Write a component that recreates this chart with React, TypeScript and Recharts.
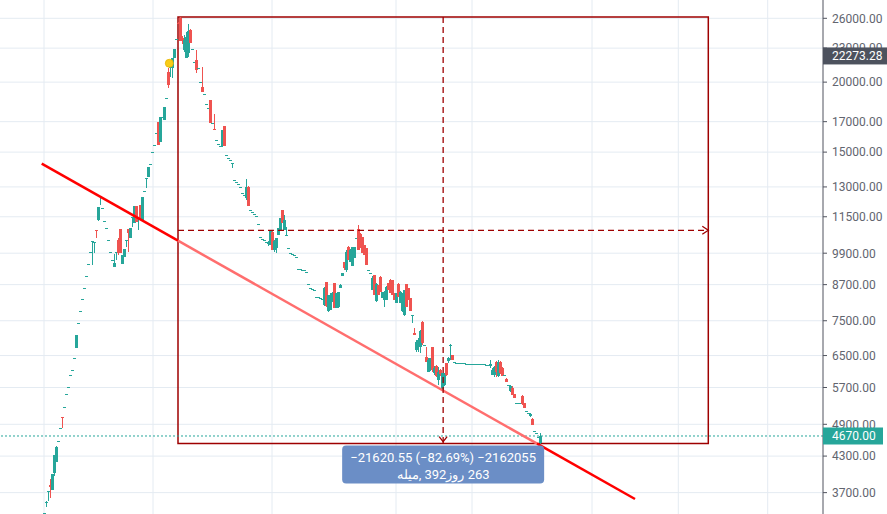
import React from 'react';
import {
  ComposedChart,
  Bar,
  XAxis,
  YAxis,
  CartesianGrid,
  ReferenceLine,
  ReferenceArea,
  ReferenceDot,
} from 'recharts';

type Ohlc = [number, number, number, number]; // open, high, low, close
type BarIn = number | Ohlc; // a single number = flat bar (open = high = low = close)

// ---- price bars (open, high, low, close) ----
const rally: BarIn[] = [
  3404,
  [3555, 3576, 3489, 3565],
  [3720, 3730, 3576, 3728],
  [3819, 3914, 3620, 3788],
  [3741, 3995, 3741, 3995],
  [4012, 4320, 3963, 4320],
  [4197, 4482, 4197, 4464],
  4576,
  4826,
  [5049, 5049, 4826, 5029],
  5263, 5551, 5713, 6001, 6126, 6435,
  [6706, 7074, 6706, 7074],
  7432, 7808, 8203, 8581, 9016, 9472, 9950,
  [10405, 10415, 9433, 10410],
  [10325, 10367, 9909, 10367],
  [10892, 10892, 10539, 10847],
  [11349, 11971, 11302, 11971],
  [12474, 12525, 12070, 12525],
];

const pullback: BarIn[] = [
  11922, 11302, 10982, 10453, 9950, 9628,
  [9356, 9868, 9356, 9511],
  [9945, 9950, 9628, 9950],
  [10453, 10539, 9828, 9909],
  [10937, 10937, 9909, 9909],
  [9472, 9828, 9472, 9828],
  [9747, 10073, 9747, 10073],
  [10450, 10453, 10157, 10453],
  [10937, 10937, 9950, 10758],
  [10539, 10982, 10539, 10982],
  [11485, 11490, 11027, 11490],
  [11210, 12021, 11210, 12021],
  [12021, 12021, 11256, 11256],
  [11396, 11443, 10892, 11443],
  [12070, 12070, 11349, 11349],
  [11349, 12474, 11349, 12474],
];

const surge: BarIn[] = [
  12785,
  [13480, 13487, 12943, 13487],
  [13543, 14111, 13543, 14111],
  14286, 15008, 15446, 16226,
  [16978, 16978, 15446, 15446],
  [15638, 17330, 15638, 17330],
  17330,
  [17118, 18057, 17118, 18057],
  18737,
  [20851, 21196, 19523, 19766],
  [21275, 21369, 20426, 21282],
  [21196, 22085, 20342, 22085],
  [22085, 22918, 22085, 22918],
  23879,
  [25500, 25606, 25397, 25397],
  [26032, 26146, 23684, 23684],
];

const topping: BarIn[] = [
  [23976, 24176, 23392, 23684],
  [22824, 24275, 22637, 23781],
  [22085, 24577, 22085, 24076],
  [22544, 25397, 22174, 24677],
  [24779, 24881, 23488, 23488],
  22918,
  21725,
  [21905, 22824, 20764, 21023],
  21196,
  20011,
  [19604, 21282, 19205, 19205],
  19048, 18281, 17983,
  [18584, 18584, 16908, 16908],
  16908,
  [16496, 17545, 16428, 16428],
  15767, 15510, 15383,
  [15383, 16428, 15320, 16428],
  [16701, 16701, 15383, 15383],
  14824, 14644, 14523,
  [14286, 14345, 14053, 14345],
  13377, 13267, 13158, 12998, 12680, 12577,
  [12423, 13432, 12321, 12998],
  [12998, 13051, 12021, 12021],
];

const slide: BarIn[] = [
  11825, 11728, 11632, 11537, 11164, 10583, 10496, 10453, 10367,
  [10283, 10410, 10199, 10367],
  [10241, 10892, 10241, 10892],
  [10803, 10892, 10032, 10032],
  [10032, 10453, 9950, 10410],
  [10115, 10539, 9909, 10539],
  [10670, 10982, 10670, 10982],
  [10892, 11443, 10892, 11443],
  [11825, 11825, 11210, 11210],
  [10892, 11584, 10892, 11349],
  [10626, 11027, 10626, 10670],
  10115, 9909, 9868, 9828, 9747, 9279, 9279, 9241, 9241, 9165,
  8724, 8581, 8546, 8511, 8270, 8270, 8236, 8203,
];

const chop: BarIn[] = [
  [8003, 8616, 7970, 8581],
  [8797, 8797, 7937, 7970],
  [7808, 8338, 7776, 8338],
  [7840, 8407, 7840, 8338],
  [8169, 8442, 8102, 8407],
  [8760, 8760, 7905, 7905],
  [7905, 8407, 7905, 8407],
  [7937, 8442, 7905, 8442],
  [8581, 8724, 8581, 8688],
  [9016, 9128, 9016, 9128],
  [9550, 9550, 9241, 9317],
  [9241, 10032, 9165, 9950],
  [10157, 10199, 9628, 9628],
  [9550, 10073, 9550, 10032],
  [9394, 10157, 9394, 10157],
  [9707, 10157, 9707, 10157],
  10539,
  [10937, 11118, 10032, 10032],
  [10714, 10758, 10115, 10115],
  [10583, 10583, 9909, 9909],
  [10241, 10241, 9828, 9828],
  [10115, 10115, 9433, 9433],
  9241,
  9128,
  [8511, 9016, 8511, 8942],
  [9053, 9053, 8338, 8338],
  [8136, 8760, 8102, 8724],
  [8688, 8688, 8338, 8338],
  [8979, 9016, 8442, 8442],
  [8236, 8442, 8236, 8442],
  [8169, 8477, 7937, 8442],
  [8169, 8652, 8169, 8616],
  [8760, 8760, 8511, 8511],
  [8869, 8905, 8407, 8407],
  [8869, 8869, 8338, 8338],
  [8407, 8407, 8169, 8169],
  [8069, 8407, 8069, 8407],
  [8724, 8760, 8270, 8270],
  [8069, 8477, 8069, 8442],
  [7808, 8407, 7776, 8407],
  [7680, 8511, 7649, 8511],
  [8724, 8724, 7937, 7937],
  [8581, 8581, 8169, 8169],
  [8236, 8236, 7808, 7808],
  [7660, 7680, 7432, 7680],
  [7133, 7281, 7074, 7074],
];

const capitulation: BarIn[] = [
  [6651, 6930, 6597, 6873],
  [6789, 6987, 6597, 6930],
  [6733, 7221, 6570, 7191],
  [7463, 7493, 6789, 6845],
  6789,
  [6463, 6733, 6331, 6331],
  [6075, 6435, 6075, 6383],
  [6126, 6435, 6100, 6435],
  [6733, 6733, 6075, 6126],
  [6050, 6227, 6001, 6176],
  [6227, 6253, 5953, 5977],
  [5880, 6202, 5760, 6075],
  [6126, 6151, 5977, 6026],
  [5643, 6050, 5620, 6050],
  [5760, 6050, 5736, 6001],
  [6304, 6304, 5977, 6001],
  [6357, 6463, 6304, 6435],
  [6760, 6817, 6383, 6789],
  [6516, 6516, 6383, 6383],
  6331,
];

const fade: BarIn[] = [
  6304, 6304, 6304, 6304, 6304,
  6279, 6279, 6279, 6279, 6279, 6279, 6279, 6279, 6279, 6279,
  6253, 6253,
  [6227, 6383, 6176, 6279],
  [6001, 6176, 6001, 6126],
  [6001, 6227, 5953, 6202],
  [6331, 6357, 5953, 6075],
  [5977, 6383, 5953, 6331],
  [6331, 6357, 6026, 6050],
  [6176, 6202, 5977, 5977],
  6001,
  [5904, 5929, 5831, 5831],
  5760,
  [5620, 5760, 5597, 5736],
  [5689, 5736, 5528, 5528],
  [5551, 5551, 5460, 5460],
  5350, 5350, 5350,
  [5505, 5528, 5306, 5328],
  [5350, 5350, 5241, 5241],
  5177,
  5134,
  [5071, 5134, 5050, 5113],
  [5008, 5029, 4887, 4887],
  4768,
  4729,
  4650,
  [4538, 4729, 4520, 4670],
];

// ---- axis ticks and annotations ----
const priceTicks = [26000, 23000, 20000, 17000, 15000, 13000, 11500, 9900, 8700, 7500, 6500, 5700, 4900, 4300, 3700];
const priceDomain: [number, number] = [3389, 28031];
const barDomain: [number, number] = [-22.15, 389.35];
const timeGrid = [-0.15, 54.35, 113.85, 175.85, 213.85, 273.85, 317, 361.7];
const lastClose = 4670;
const markerPrice = 22273.28;

const measureStart = { bar: 66.85, price: 26146.47 };
const measureEnd = { bar: 332, price: 4525.92 };
const measureDelta = '\u221221620.55 (\u221282.69%) \u22122162055';
// pieces shown left to right, each one isolated so they keep this order
const measureCount = ['\u0645\u06cc\u0644\u0647,', ' 392', '\u0631\u0648\u0632', ' 263'];

const trendFrom = { bar: -1.3, price: 14304 };
const trendTo = { bar: 295.35, price: 3605 };
const eventDot = { bar: 62.5, price: 21610 };

const TEAL = '#26a69a';
const RED = '#ef5350';
const GRID = '#e4ebf2';
const AXIS = '#50535e';
const BOX = '#9e0000';

const candles = [rally, pullback, surge, topping, slide, chop, capitulation, fade]
  .flat()
  .map((b, i) => {
    const [open, high, low, close] = typeof b === 'number' ? [b, b, b, b] : b;
    return { i, open, high, low, close, range: [low, high] };
  });

// trend line straight in (bar, log price)
const lnA = Math.log(trendFrom.price);
const lnB = Math.log(trendTo.price);
const trendPriceAt = (bar: number) =>
  Math.exp(lnA + ((bar - trendFrom.bar) / (trendTo.bar - trendFrom.bar)) * (lnB - lnA));
const trendBarAt = (price: number) =>
  trendFrom.bar + ((Math.log(price) - lnA) / (lnB - lnA)) * (trendTo.bar - trendFrom.bar);
const splitA = { bar: measureStart.bar, price: trendPriceAt(measureStart.bar) };
const splitB = { bar: trendBarAt(measureEnd.price), price: measureEnd.price };

const midBar = (measureStart.bar + measureEnd.bar) / 2;
const midPrice = Math.sqrt(measureStart.price * measureEnd.price);

const Candle = (props: any) => {
  const { x, y, width, height, payload } = props;
  if (!payload || x == null || y == null) return null;
  const { open, high, low, close } = payload;
  const top0 = height < 0 ? y + height : y;
  const h = Math.abs(height || 0);
  const cx = x + (width || 0) / 2;
  const lh = Math.log(high);
  const ll = Math.log(low);
  const span = lh - ll;
  const py = (v: number) => (span > 0 ? top0 + (h * (lh - Math.log(v))) / span : top0);
  const color = close >= open ? TEAL : RED;
  const bt = py(Math.max(open, close));
  const bb = py(Math.min(open, close));
  const bh = Math.max(1, bb - bt);
  return (
    <g shapeRendering="crispEdges">
      {h > 0.5 && <line x1={cx} x2={cx} y1={top0} y2={top0 + h} stroke={color} strokeWidth={1} />}
      <rect x={cx - 1.5} y={bt} width={3} height={bh} fill={color} />
    </g>
  );
};

const PriceTick = (props: any) => {
  const { x, y, payload } = props;
  const v = payload.value;
  const label = Number(v).toFixed(2);
  if (v === lastClose || v === markerPrice) {
    const fill = v === lastClose ? TEAL : '#4d525e';
    const w = v === lastClose ? 60 : 64;
    return (
      <g>
        <rect x={x - 9} y={y - 8.5} width={w} height={17} fill={fill} />
        <text x={x} y={y} dy="0.36em" fill="#ffffff" fontSize={12} fontFamily="Roboto, sans-serif">
          {label}
        </text>
      </g>
    );
  }
  return (
    <text x={x} y={y} dy="0.36em" fill="#62656f" fontSize={12} fontFamily="Roboto, sans-serif">
      {label}
    </text>
  );
};

const ArrowRight = (p: any) => (
  <path d={`M${p.cx - 6},${p.cy - 4} L${p.cx},${p.cy} L${p.cx - 6},${p.cy + 4}`} fill="none" stroke={BOX} strokeWidth={1.3} />
);
const ArrowDown = (p: any) => (
  <path d={`M${p.cx - 4},${p.cy - 7} L${p.cx},${p.cy - 2} L${p.cx + 4},${p.cy - 7}`} fill="none" stroke={BOX} strokeWidth={1.3} />
);
const YellowDot = (p: any) => <circle cx={p.cx} cy={p.cy} r={4} fill="#f8cc17" stroke="#e9b400" strokeWidth={0.8} />;

const LRI = '\u2066';
const PDI = '\u2069';
const countText = measureCount.map((t) => LRI + t + PDI).join('');

const MeasureBox = (p: any) => {
  const { cx, cy } = p;
  const w = 202;
  const h = 38;
  return (
    <g>
      <rect x={cx - w / 2} y={cy + 2} width={w} height={h} rx={4} fill="#6b8ec6" />
      <text
        x={cx}
        y={cy + 18}
        textAnchor="middle"
        fill="#ffffff"
        fontSize={13}
        fontFamily="Roboto, sans-serif"
        style={{ whiteSpace: 'pre' }}
      >
        {measureDelta}
      </text>
      <text
        x={cx}
        y={cy + 35}
        textAnchor="middle"
        fill="#ffffff"
        fontSize={13}
        fontFamily="Roboto, sans-serif"
        direction="ltr"
        style={{ whiteSpace: 'pre' }}
      >
        {countText}
      </text>
    </g>
  );
};

export default function App() {
  return (
    <div style={{ position: 'absolute', left: 0, top: 0, width: 887, height: 514, background: '#ffffff', fontFamily: 'Roboto, sans-serif' }}>
      <ComposedChart width={887} height={514} data={candles} margin={{ top: 0, right: 0, bottom: 0, left: 0 }}>
        <CartesianGrid stroke={GRID} horizontalValues={priceTicks} verticalValues={timeGrid} />
        <XAxis dataKey="i" type="number" domain={barDomain} allowDataOverflow hide />
        <YAxis
          orientation="right"
          type="number"
          scale="log"
          domain={priceDomain}
          allowDataOverflow
          ticks={[...priceTicks, markerPrice, lastClose]}
          interval={0}
          width={64}
          tickSize={4}
          tickMargin={5}
          axisLine={{ stroke: AXIS }}
          tickLine={{ stroke: AXIS }}
          tick={PriceTick}
        />
        <ReferenceArea
          x1={measureStart.bar}
          x2={measureEnd.bar}
          y1={measureEnd.price}
          y2={measureStart.price}
          stroke={BOX}
          strokeWidth={1.5}
          fill="none"
          fillOpacity={0}
        />
        <Bar dataKey="range" barSize={3} shape={Candle} isAnimationActive={false} />
        <ReferenceLine y={lastClose} stroke={TEAL} strokeDasharray="2 2" strokeWidth={1} />
        <ReferenceLine
          segment={[{ x: trendFrom.bar, y: trendFrom.price }, { x: splitA.bar, y: splitA.price }]}
          stroke="#ff0000"
          strokeWidth={2.5}
        />
        <ReferenceLine
          segment={[{ x: splitA.bar, y: splitA.price }, { x: splitB.bar, y: splitB.price }]}
          stroke="#ff6e6e"
          strokeWidth={2.5}
        />
        <ReferenceLine
          segment={[{ x: splitB.bar, y: splitB.price }, { x: trendTo.bar, y: trendTo.price }]}
          stroke="#ff0000"
          strokeWidth={2.5}
        />
        <ReferenceLine
          segment={[{ x: measureStart.bar, y: midPrice }, { x: measureEnd.bar, y: midPrice }]}
          stroke={BOX}
          strokeDasharray="6 4"
          strokeWidth={1.3}
        />
        <ReferenceLine
          segment={[{ x: midBar, y: measureStart.price }, { x: midBar, y: measureEnd.price }]}
          stroke={BOX}
          strokeDasharray="6 4"
          strokeWidth={1.3}
        />
        <ReferenceDot x={measureEnd.bar} y={midPrice} r={4} shape={ArrowRight} />
        <ReferenceDot x={midBar} y={measureEnd.price} r={4} shape={ArrowDown} />
        <ReferenceDot x={eventDot.bar} y={eventDot.price} r={4} shape={YellowDot} />
        <ReferenceDot x={midBar} y={measureEnd.price} r={1} shape={MeasureBox} />
      </ComposedChart>
    </div>
  );
}
